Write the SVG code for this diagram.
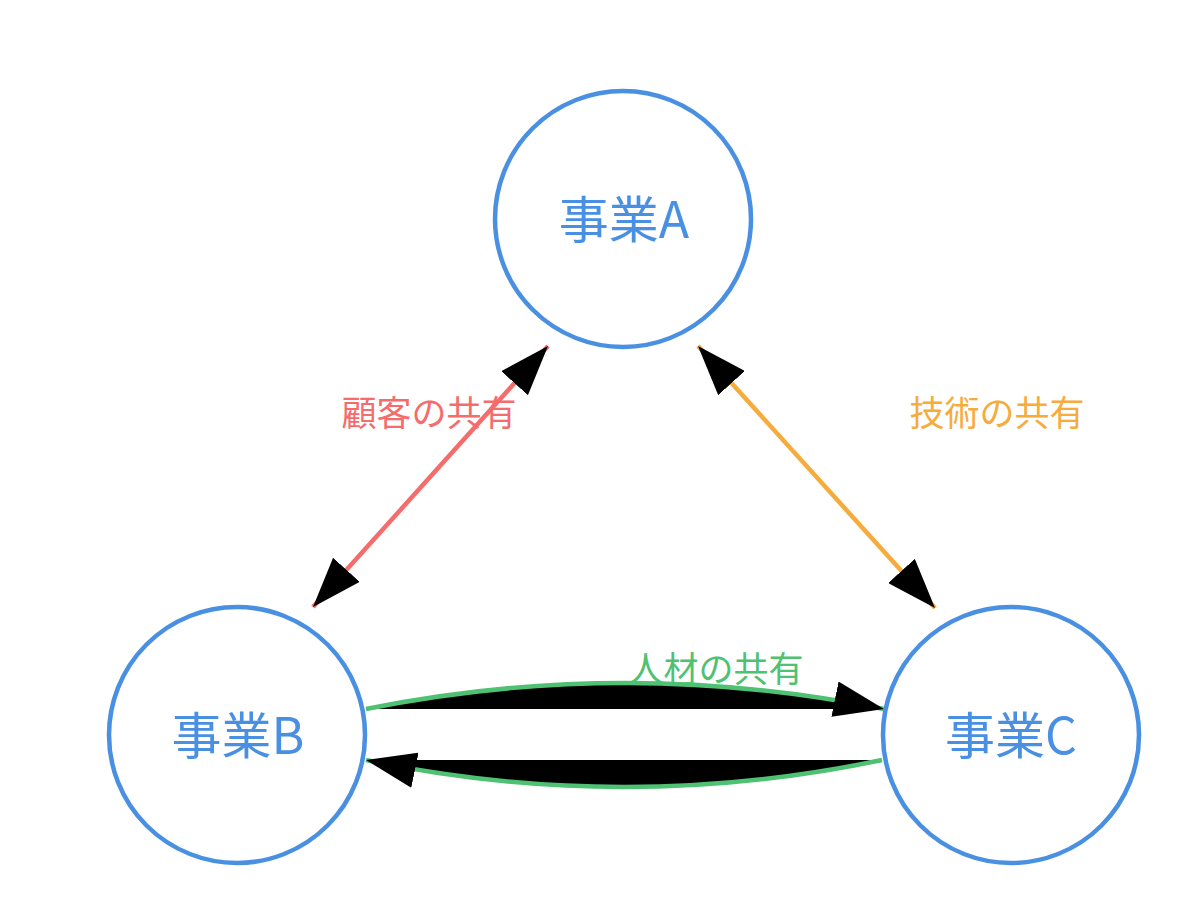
<svg xmlns="http://www.w3.org/2000/svg" width="1200" height="917" viewBox="0 0 1200 917">
<style>
.node{fill:none;stroke:#4a90e2;stroke-width:4.5}
.nlabel{fill:#4a90e2;font-family:"Noto Sans CJK JP","Noto Sans",sans-serif;font-size:50px;text-anchor:middle;dominant-baseline:central}
.elabel{font-family:"Noto Sans CJK JP","Noto Sans",sans-serif;font-size:35px;text-anchor:middle;dominant-baseline:central}
.edge{stroke-width:4.5}
</style>
<defs>
<marker id="arr" markerUnits="userSpaceOnUse" markerWidth="50" markerHeight="36" refX="50" refY="18" orient="auto-start-reverse" viewBox="0 0 50 36">
<path d="M0,0 L50,18 L0,36 z" fill="#000"/>
</marker>
</defs>
<rect width="1200" height="917" fill="#ffffff"/>
<g id="connectors">
<line class="edge" x1="313" y1="607" x2="548" y2="346" stroke="#f56c6c" marker-start="url(#arr)" marker-end="url(#arr)"/>
<line class="edge" x1="698" y1="346" x2="935" y2="608" stroke="#f6ab3d" marker-start="url(#arr)" marker-end="url(#arr)"/>
<path class="edge" d="M366,709 Q625,657 884,709" stroke="#4fc172" fill="#000" marker-end="url(#arr)"/>
<path class="edge" d="M882,760 Q624,814 366,760" stroke="#4fc172" fill="#000" marker-end="url(#arr)"/>
<text class="elabel" x="429" y="410" fill="#f56c6c">顧客の共有</text>
<text class="elabel" x="997" y="410" fill="#f6ab3d">技術の共有</text>
<text class="elabel" x="716" y="666" fill="#4fc172">人材の共有</text>
</g>
<g id="nodeA">
<circle class="node" cx="623" cy="219" r="128"/>
<text class="nlabel" x="624" y="216">事業A</text>
</g>
<g id="nodeB">
<circle class="node" cx="237" cy="735" r="128"/>
<text class="nlabel" x="238" y="732">事業B</text>
</g>
<g id="nodeC">
<circle class="node" cx="1011" cy="735" r="128"/>
<text class="nlabel" x="1011" y="732">事業C</text>
</g>
</svg>
